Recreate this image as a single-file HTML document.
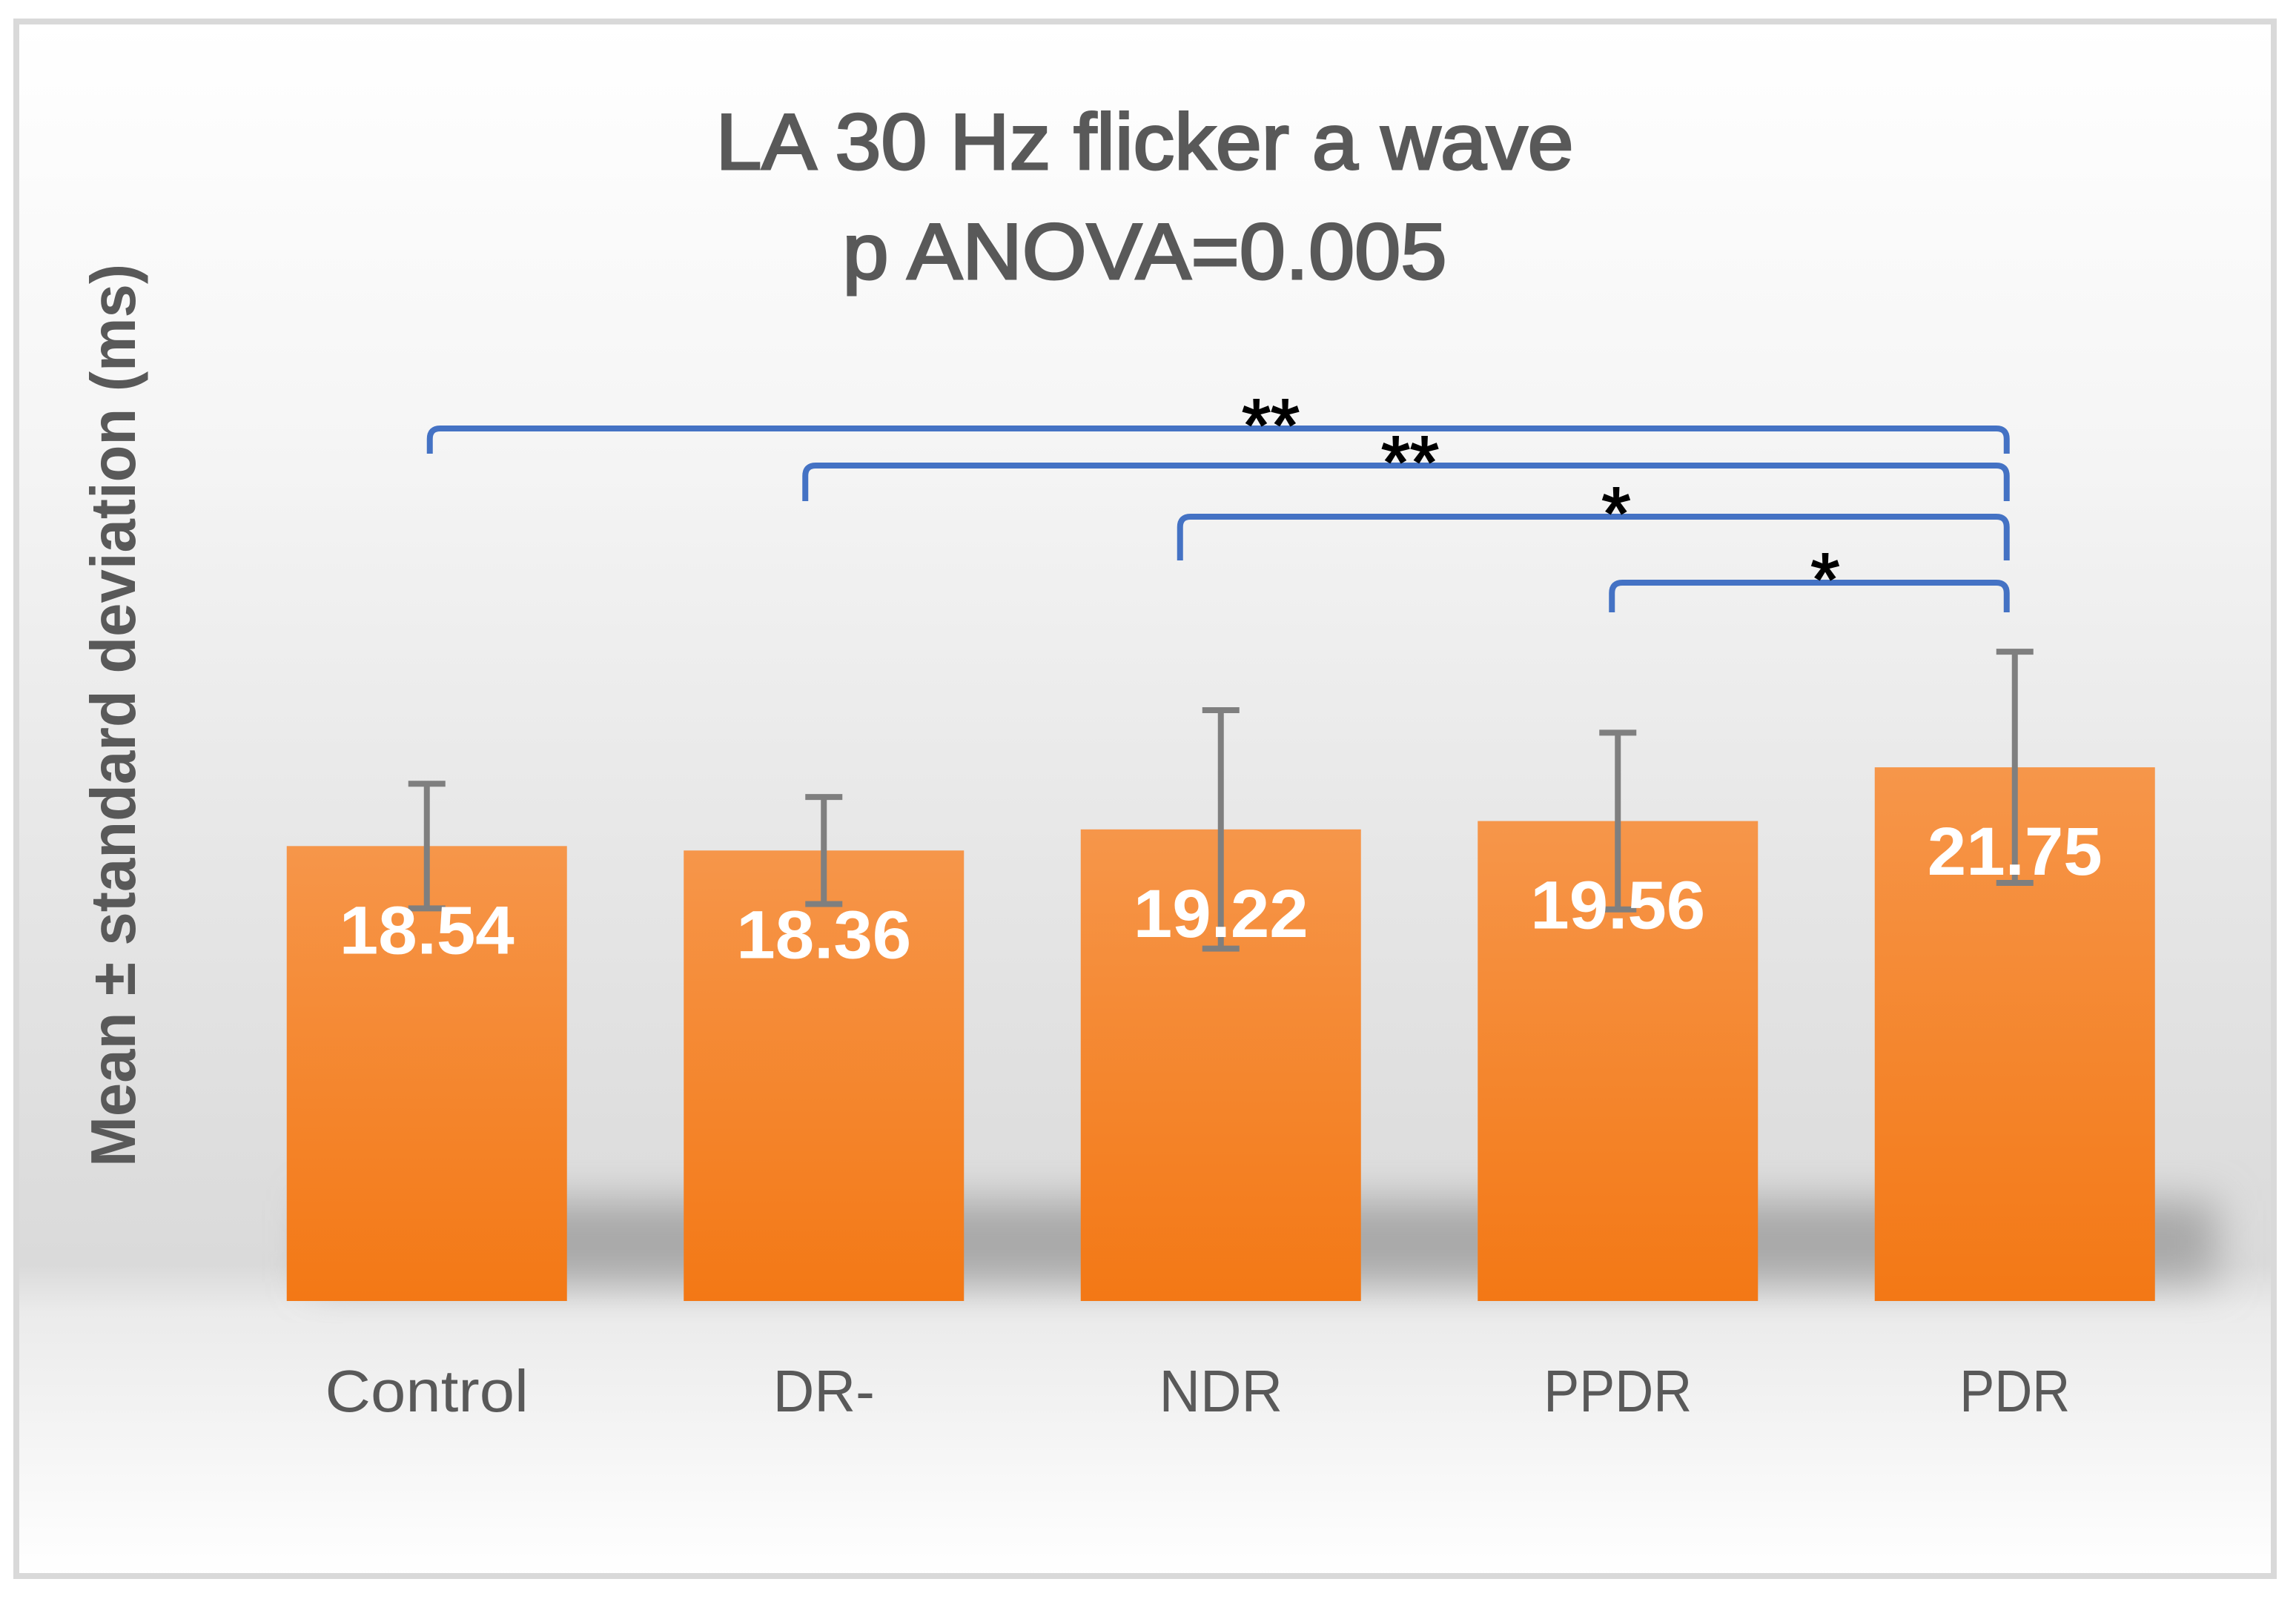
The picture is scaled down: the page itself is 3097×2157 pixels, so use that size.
<!DOCTYPE html>
<html><head><meta charset="utf-8"><style>
html,body{margin:0;padding:0;background:#fff;}
svg{display:block;}
</style></head><body>
<svg id="chart" width="3097" height="2157" viewBox="0 0 3097 2157" xmlns="http://www.w3.org/2000/svg">
<defs>
<linearGradient id="bg" x1="0" y1="0" x2="0" y2="1">
<stop offset="0" stop-color="#ffffff"/>
<stop offset="0.25" stop-color="#f6f6f6"/>
<stop offset="0.55" stop-color="#e6e6e6"/>
<stop offset="0.80" stop-color="#dadada"/>
<stop offset="0.83" stop-color="#ebebeb"/>
<stop offset="1" stop-color="#ffffff"/>
</linearGradient>
<linearGradient id="barg" x1="0" y1="0" x2="0" y2="1">
<stop offset="0" stop-color="#f6964a"/>
<stop offset="1" stop-color="#f37815"/>
</linearGradient>
<filter id="blur" x="-20%" y="-50%" width="140%" height="200%"><feGaussianBlur stdDeviation="28"/></filter>
</defs>
<rect x="22" y="29" width="3045" height="2097" fill="url(#bg)" stroke="#d9d9d9" stroke-width="8"/>
<g id="shadow" filter="url(#blur)">
<rect x="420" y="1620" width="2570" height="110" fill="#a8a8a8"/>
</g>
<text x="1544" y="228" text-anchor="middle" font-family="Liberation Sans, sans-serif" font-size="107" fill="#595959" stroke="#595959" stroke-width="3" textLength="1157" lengthAdjust="spacingAndGlyphs">LA 30 Hz flicker a wave</text>
<text x="1544" y="376" text-anchor="middle" font-family="Liberation Sans, sans-serif" font-size="107" fill="#595959" stroke="#595959" stroke-width="3" textLength="815" lengthAdjust="spacingAndGlyphs">p ANOVA=0.005</text>
<text transform="translate(182,965) rotate(-90)" text-anchor="middle" font-family="Liberation Sans, sans-serif" font-weight="bold" font-size="85" fill="#595959" textLength="1218" lengthAdjust="spacingAndGlyphs">Mean ± standard deviation (ms)</text>
<g id="bars"></g>
<g id="brackets"></g>
</svg>
<script>
const categories = ["Control", "DR-", "NDR", "PPDR", "PDR"];
const means = [18.54, 18.36, 19.22, 19.56, 21.75];
const sds = [2.54, 2.18, 4.86, 3.6, 4.71];
const valueLabels = ["18.54", "18.36", "19.22", "19.56", "21.75"];
const compFrom = [0, 1, 2, 3];
const compTo = [4, 4, 4, 4];
const compStars = ["**", "**", "*", "*"];

const NS = "http://www.w3.org/2000/svg";
const plotLeft = 308, band = 535.5, baseY = 1755, pxPerUnit = 33.1, barW = 378;
function xCenter(i){ return plotLeft + band * (i + 0.5); }
function yScale(v){ return baseY - v * pxPerUnit; }
function mk(tag, attrs, parent){
  const el = document.createElementNS(NS, tag);
  for (const k in attrs) el.setAttribute(k, attrs[k]);
  parent.appendChild(el);
  return el;
}
const gb = document.getElementById("bars");
const catW = [140, 70, 85, 102, 76];
categories.forEach((c, i) => {
  const cx = xCenter(i), top = yScale(means[i]);
  const r = mk("rect", {x: cx - barW/2, y: top, width: barW, height: baseY - top, fill: "url(#barg)"}, gb);
  
  
  const e1 = yScale(means[i] + sds[i]), e2 = yScale(means[i] - sds[i]);
  const eb = mk("path", {d: `M${cx-25},${e1}H${cx+25}M${cx},${e1}V${e2}M${cx-25},${e2}H${cx+25}`, stroke: "#7f7f7f", "stroke-width": 8, fill: "none"}, gb);
  
  
  const vl = mk("text", {x: cx, y: top + 145, "text-anchor": "middle", "font-family": "Liberation Sans, sans-serif", "font-weight": "bold", "font-size": 92, fill: "#ffffff", textLength: 236, lengthAdjust: "spacingAndGlyphs"}, gb);
  vl.textContent = valueLabels[i];
  
  
  const cl = mk("text", {x: cx, y: 1904, "text-anchor": "middle", "font-family": "Liberation Sans, sans-serif", "font-size": 80, fill: "#595959", textLength: catW[i]*2*0.98, lengthAdjust: "spacingAndGlyphs"}, gb);
  cl.textContent = c;
  
  
});
const gk = document.getElementById("brackets");
const brY = [578, 628, 697, 786];
const legBot = [612, 676, 756, 826];
const starX = [1714, 1902, 2180, 2462];
const legOff = [4, -25, -55, -8];
compFrom.forEach((f, k) => {
  const x1 = xCenter(f) + legOff[k], x2 = xCenter(compTo[k]) - 11, y = brY[k], yb = legBot[k], r = 14;
  const p = mk("path", {d: `M${x1},${yb}V${y+r}Q${x1},${y} ${x1+r},${y}H${x2-r}Q${x2},${y} ${x2},${y+r}V${yb}`, stroke: "#4472c4", "stroke-width": 8, fill: "none"}, gk);
  
  
  const t = mk("text", {x: starX[k], y: y + 30, "text-anchor": "middle", "font-family": "Liberation Sans, sans-serif", "font-size": 100, fill: "#000", stroke: "#000", "stroke-width": 2}, gk);
  t.textContent = compStars[k];
  
  
});
</script>
</body></html>
